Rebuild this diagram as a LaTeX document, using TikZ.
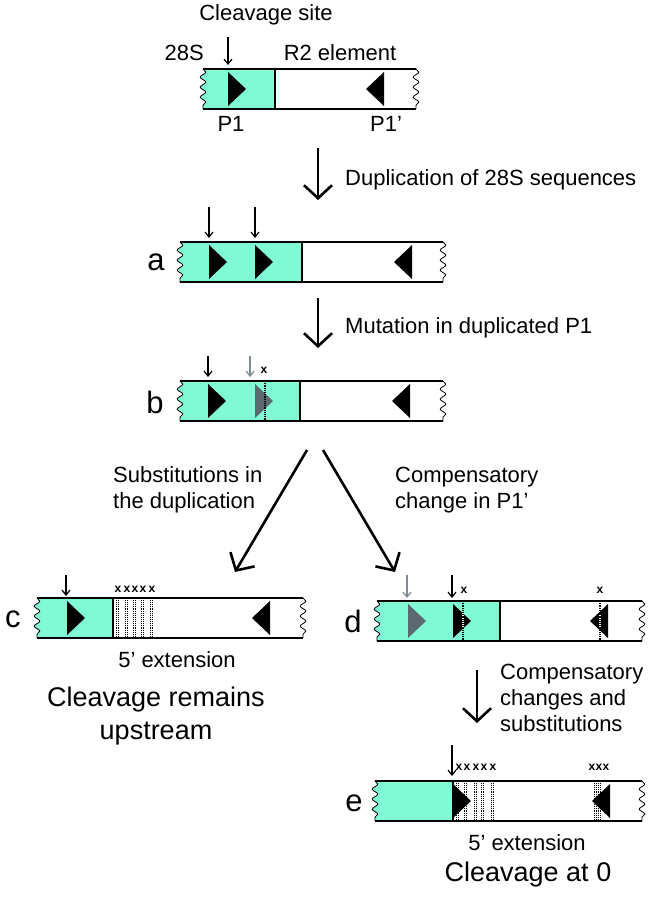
\documentclass[tikz,border=0pt]{standalone}
\usepackage{fontspec}
\setmainfont{Liberation Sans}
\usetikzlibrary{arrows.meta,decorations.pathmorphing}
\definecolor{aqua}{RGB}{127,250,212}
\definecolor{mutgray}{RGB}{90,105,110}
\definecolor{arrgray}{RGB}{125,140,145}

\tikzset{
  txt/.style={font=\fontsize{22}{26}\selectfont, inner sep=0pt, align=left},
  bigtxt/.style={font=\fontsize{27}{33}\selectfont, inner sep=0pt, align=center},
  panel/.style={font=\fontsize{31}{34}\selectfont, inner sep=0pt},
  xm/.style={font=\fontsize{12}{12}\selectfont\bfseries, inner sep=0pt},
  bigarrow/.style={line width=2.6pt, -{Straight Barb[length=13pt,width=28pt]}},
  cutarrow/.style={line width=1.2pt, -{Straight Barb[length=5pt,width=8pt]}},
  snk/.style={decoration={snake, amplitude=2.8pt, segment length=10pt}},
  mutline/.style={line width=1.2pt, densely dotted},
  edgeline/.style={line width=1.6pt},
}

% left end, end of 28S, right end, top of the box
\newcommand{\seqbox}[4]{%
  \fill[aqua] (#2,#4) -- (#1,#4) decorate[snk]{-- (#1,#4+40)} -- (#2,#4+40) -- cycle;
  \draw[edgeline] (#1,#4) -- (#3,#4) (#1,#4+40) -- (#3,#4+40) (#2,#4) -- (#2,#4+40);
  \draw[line width=0.8pt, decorate, snk] (#1,#4) -- (#1,#4+40);
  \draw[line width=0.8pt, decorate, snk] (#3,#4) -- (#3,#4+40);
}
\newcommand{\rtri}[3][black]{\fill[#1] (#2,#3+3) -- (#2+18,#3+20) -- (#2,#3+37) -- cycle;}
\newcommand{\ltri}[3][black]{\fill[#1] (#2+18,#3+3) -- (#2,#3+20) -- (#2+18,#3+37) -- cycle;}
\newcommand{\mut}[2]{\draw[mutline] (#1,#2) -- (#1,#2+40);}
\newcommand{\mutpair}[2]{\draw[line width=0.9pt, densely dotted] (#1,#2) -- (#1,#2+40) (#1+2.6,#2) -- (#1+2.6,#2+40);}
\newcommand{\cut}[4][black]{\draw[cutarrow, #1] (#2,#3) -- (#2,#4);}

\begin{document}
\begin{tikzpicture}[x=1pt, y=-1pt]
  \useasboundingbox (0,0) rectangle (653,904);

  % wild type
  \node[txt] (site) at (266,15) {Cleavage site};
  \node[txt, anchor=east] (s28) at (204,53) {28S};
  \node[txt] (r2) at (340,53) {R2 element};
  \cut{228}{37}{65}
  \seqbox{203}{275}{416}{69}
  \rtri{228}{69}
  \ltri{366}{69}
  \node[txt] (p1) at (231,124) {P1};
  \node[txt] (p1r) at (386,124) {P1’};

  \coordinate (d1) at (318,148);
  \coordinate (d2) at (318,200);
  \draw[bigarrow] (d1) -- (d2);
  \node[txt, anchor=west] (dup) at (345,180) {Duplication of 28S sequences};

  % a
  \node[panel] (la) at (156,262) {a};
  \cut{209}{207}{238}
  \cut{255}{207}{238}
  \seqbox{180}{302}{443}{242}
  \rtri{209}{242}
  \rtri{255}{242}
  \ltri{394}{242}

  \coordinate (m1) at (318,298);
  \coordinate (m2) at (318,348);
  \draw[bigarrow] (m1) -- (m2);
  \node[txt, anchor=west] (mut) at (345,328) {Mutation in duplicated P1};

  % b
  \node[panel] (lb) at (155,402) {b};
  \cut{208}{356}{377}
  \cut[arrgray]{250}{356}{377}
  \node[xm] (xb) at (264,370) {x};
  \seqbox{180}{300}{443}{381}
  \rtri{208}{381}
  \rtri[mutgray]{255}{381}
  \mut{265}{381}
  \ltri{392}{381}

  \coordinate (fork1) at (307,450);
  \coordinate (fork2) at (323,450);
  \coordinate (toc) at (235,572);
  \coordinate (tod) at (395,572);
  \draw[bigarrow] (fork1) -- (toc);
  \draw[bigarrow] (fork2) -- (tod);
  \node[txt, anchor=west] (subst) at (113,490) {Substitutions in\\the duplication};
  \node[txt, anchor=west] (comp) at (395,490) {Compensatory\\change in P1’};

  % c
  \node[panel] (lc) at (13,619) {c};
  \cut{66}{575}{596}
  \seqbox{37}{113}{303}{598}
  \rtri{67}{598}
  \ltri{252}{598}
  \foreach \p in {116,125,133,141,150} {\mutpair{\p}{598}}
  \foreach \p [count=\i] in {118,127,135,143,152} {\node[xm] (xc\i) at (\p,589) {x};}
  \node[txt] (extc) at (177,660) {5’ extension};
  \node[bigtxt] (upst) at (156,716) {Cleavage remains\\upstream};

  % d
  \node[panel] (ld) at (353,621) {d};
  \cut[arrgray]{407}{575}{598}
  \cut{452}{575}{598}
  \node[xm] (xd1) at (464,590) {x};
  \node[xm] (xd2) at (600,590) {x};
  \seqbox{377}{500}{642}{601}
  \rtri[mutgray]{408}{601}
  \rtri{453}{601}
  \draw[white, line width=1.2pt] (463,613) -- (463,629);
  \mut{463}{601}
  \ltri{590}{601}
  \draw[white, line width=1.2pt] (600,615) -- (600,627);
  \mut{600}{601}

  \coordinate (e1) at (477,670);
  \coordinate (e2) at (477,723);
  \draw[bigarrow] (e1) -- (e2);
  \node[txt, anchor=west] (comp2) at (500,698) {Compensatory\\changes and\\substitutions};

  % e
  \node[panel] (le) at (354,803) {e};
  \seqbox{375}{453}{642}{781}
  \rtri{453}{781}
  \foreach \p in {456,464,474,481,491} {\mutpair{\p}{781}}
  \ltri{592}{781}
  \foreach \p in {594,598} {\mutpair{\p}{781}}
  \foreach \p [count=\i] in {459,467,476,484,493} {\node[xm] (xe\i) at (\p,767) {x};}
  \foreach \p [count=\i] in {592,599,606} {\node[xm] (xf\i) at (\p,767) {x};}
  \cut{452}{745}{776}
  \node[txt] (exte) at (527,843) {5’ extension};
  \node[bigtxt] (at0) at (528,875) {Cleavage at 0};
\end{tikzpicture}
\end{document}
